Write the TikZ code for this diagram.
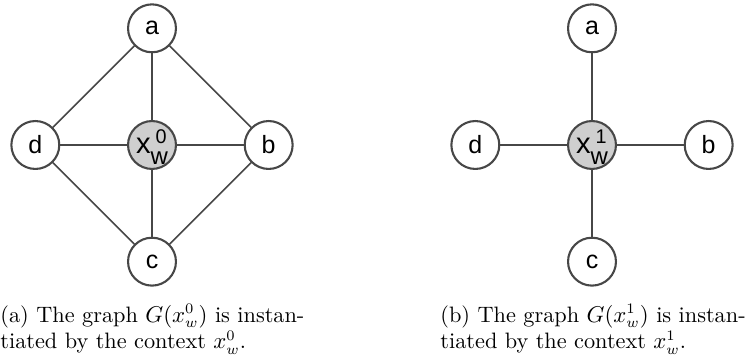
\documentclass[tikz,border=0pt]{standalone}
\usepackage{fontspec}
\usepackage{tikz}
\usetikzlibrary{positioning}
\newfontfamily\nodefont{Liberation Sans}
\definecolor{edgegray}{HTML}{474747}
\definecolor{ctxgray}{HTML}{CFCFCF}
% context label x with raised / lowered indices
\newcommand{\ctxlabel}[1]{x\rlap{\kern2.4pt\raisebox{4.8pt}[0pt][0pt]{\fontsize{9.5pt}{11pt}\selectfont #1}}%
  \raisebox{-5.3pt}[0pt][0pt]{\fontsize{11.5pt}{13pt}\selectfont w}\rule{0pt}{7.7pt}}
\begin{document}
\begin{tikzpicture}[
  x=0.48pt, y=-0.48pt,
  vert/.style={circle, draw=edgegray, line width=1pt, fill=white,
    minimum size=23pt, inner sep=0pt, font=\nodefont\large},
  ctx/.style={vert, fill=ctxgray, font=\nodefont\fontsize{14pt}{16pt}\selectfont},
  link/.style={edgegray, line width=0.75pt},
  capt/.style={text width=150pt, align=justify, inner sep=0pt, anchor=north west,
    font=\fontsize{10.7pt}{12.85pt}\selectfont},
  node distance=56pt, on grid]
  \useasboundingbox (0,0) rectangle (745,359);
  % (a) context x^0_w
  \node[ctx] (xa) at (152,145) {\ctxlabel{0}};
  \node[vert, above=of xa] (aa) {a};
  \node[vert, right=of xa] (ba) {b};
  \node[vert, below=of xa] (ca) {c};
  \node[vert, left=of xa] (da) {d};
  \draw[link] (xa) -- (aa);
  \draw[link] (xa) -- (ba);
  \draw[link] (xa) -- (ca);
  \draw[link] (xa) -- (da);
  \draw[link] (aa) -- (ba);
  \draw[link] (ba) -- (ca);
  \draw[link] (ca) -- (da);
  \draw[link] (da) -- (aa);
  % (b) context x^1_w
  \node[ctx] (xb) at (592,145) {\ctxlabel{1}};
  \node[vert, above=of xb] (ab) {a};
  \node[vert, right=of xb] (bb) {b};
  \node[vert, below=of xb] (cb) {c};
  \node[vert, left=of xb] (db) {d};
  \draw[link] (xb) -- (ab);
  \draw[link] (xb) -- (bb);
  \draw[link] (xb) -- (cb);
  \draw[link] (xb) -- (db);
  % captions
  \node[capt] (capa) at (0,304) {(a) The graph $G(x^0_w)$ is instan-\\tiated by the context $x^0_w$.};
  \node[capt] (capb) at (440,304) {(b) The graph $G(x^1_w)$ is instan-\\tiated by the context $x^1_w$.};
\end{tikzpicture}
\end{document}
